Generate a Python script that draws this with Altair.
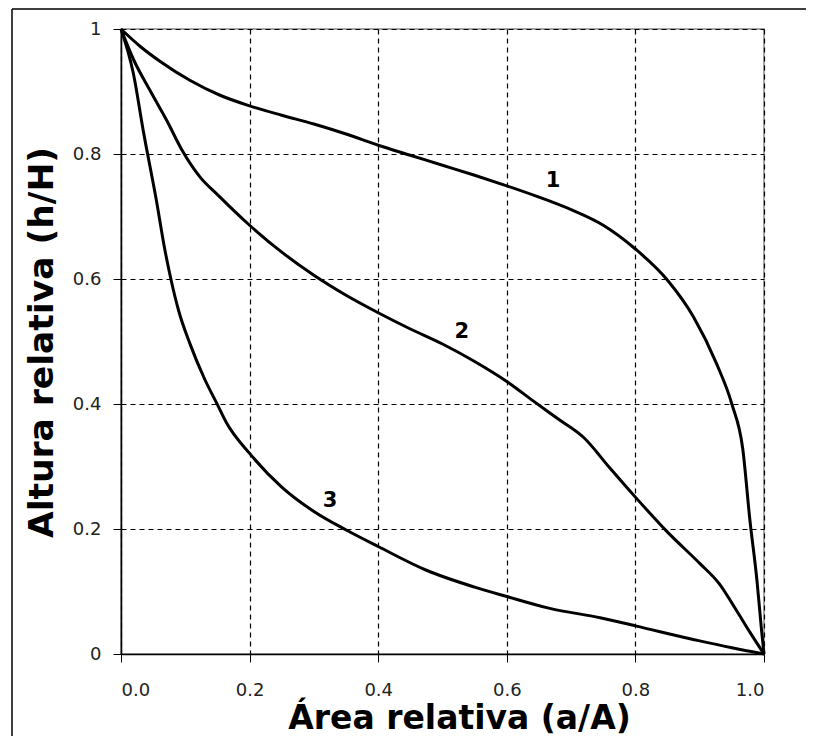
import altair as alt
import pandas as pd

# Curve 1
c1_x = [0, 0.03, 0.061, 0.107, 0.154, 0.2, 0.25, 0.3, 0.35, 0.4, 0.45, 0.5, 0.55, 0.6, 0.65, 0.7, 0.75, 0.8, 0.85, 0.89, 0.926, 0.95, 0.967, 0.978, 0.989, 0.996, 1.0]
c1_y = [1, 0.972, 0.948, 0.918, 0.894, 0.877, 0.862, 0.848, 0.832, 0.814, 0.798, 0.782, 0.766, 0.749, 0.731, 0.711, 0.686, 0.648, 0.598, 0.54, 0.465, 0.4, 0.328, 0.215, 0.118, 0.04, 0]
# Curve 2
c2_x = [0, 0.02, 0.045, 0.071, 0.095, 0.123, 0.15, 0.2, 0.25, 0.3, 0.35, 0.4, 0.45, 0.5, 0.55, 0.6, 0.641, 0.68, 0.72, 0.76, 0.8, 0.85, 0.9, 0.93, 0.957, 0.978, 1.0]
c2_y = [1, 0.95, 0.902, 0.854, 0.806, 0.763, 0.735, 0.686, 0.643, 0.606, 0.574, 0.546, 0.52, 0.496, 0.468, 0.436, 0.405, 0.376, 0.346, 0.298, 0.251, 0.195, 0.145, 0.113, 0.07, 0.035, 0]
# Curve 3
c3_x = [0, 0.019, 0.035, 0.055, 0.068, 0.078, 0.09, 0.107, 0.13, 0.149, 0.164, 0.2, 0.25, 0.3, 0.351, 0.4, 0.475, 0.55, 0.6, 0.667, 0.745, 0.8, 0.9, 0.95, 1.0]
c3_y = [1, 0.93, 0.835, 0.726, 0.648, 0.598, 0.548, 0.497, 0.44, 0.401, 0.37, 0.321, 0.267, 0.228, 0.198, 0.172, 0.134, 0.107, 0.092, 0.073, 0.058, 0.045, 0.021, 0.01, 0]

# Curve labels
lab_text = ["1", "2", "3"]
lab_x = [0.672, 0.53, 0.325]
lab_y = [0.757, 0.515, 0.245]

x_ticks = [0, 0.2, 0.4, 0.6, 0.8, 1.0]
y_ticks = [0, 0.2, 0.4, 0.6, 0.8, 1.0]

rows = []
for name, xs, ys in [("1", c1_x, c1_y), ("2", c2_x, c2_y), ("3", c3_x, c3_y)]:
    for i, (a, b) in enumerate(zip(xs, ys)):
        rows.append({"curve": name, "order": i, "x": a, "y": b})
df = pd.DataFrame(rows)
labels = pd.DataFrame({"t": lab_text, "x": lab_x, "y": lab_y})

FONT = "DejaVu Sans"

xscale = alt.Scale(domain=[0, 1], nice=False, zero=False)
yscale = alt.Scale(domain=[0, 1], nice=False, zero=False)

lines = alt.Chart(df).mark_line(color="black", strokeWidth=3, interpolate="monotone").encode(
    x=alt.X("x:Q", scale=xscale,
            axis=alt.Axis(title="Área relativa (a/A)", values=x_ticks, format=".1f",
                          grid=True, gridColor="black", gridDash=[5, 4], gridWidth=1.2,
                          domainColor="black", domainWidth=1.5, tickColor="black", tickSize=8,
                          labelFont=FONT, labelFontSize=18, labelColor="#222", labelPadding=19,
                          titleFont=FONT, titleFontSize=33, titleFontWeight="bold",
                          titleColor="black", titleX=338, titleY=74,
                          titleAlign="center", titleBaseline="alphabetic")),
    y=alt.Y("y:Q", scale=yscale,
            axis=alt.Axis(title="Altura relativa (h/H)", values=y_ticks,
                          labelExpr="datum.value == 0 ? '0' : datum.value == 1 ? '1' : format(datum.value, '.1f')",
                          grid=True, gridColor="black", gridDash=[5, 4], gridWidth=1.2,
                          domainColor="black", domainWidth=1.5, tickColor="black", tickSize=8,
                          labelFont=FONT, labelFontSize=18, labelColor="#222", labelPadding=12,
                          titleFont=FONT, titleFontSize=34.5, titleFontWeight="bold",
                          titleColor="black", titleX=-69, titleY=313, titleAngle=270,
                          titleAlign="center", titleBaseline="alphabetic")),
    detail="curve:N",
    order="order:Q",
)

text = alt.Chart(labels).mark_text(font=FONT, fontSize=21, fontWeight="bold", color="black").encode(
    x=alt.X("x:Q", scale=xscale), y=alt.Y("y:Q", scale=yscale), text="t:N"
)

one = pd.DataFrame({"a": [0]})
frame_top = alt.Chart(one).mark_rule(color="black", strokeWidth=1.5).encode(
    x=alt.value(-109), x2=alt.value(900), y=alt.value(-20)
)
frame_left = alt.Chart(one).mark_rule(color="black", strokeWidth=1.5).encode(
    x=alt.value(-109), y=alt.value(-20), y2=alt.value(800)
)

chart = alt.layer(lines, text, frame_top, frame_left).properties(
    width=643, height=625,
    padding={"left": 113, "top": 21, "right": 42, "bottom": 82},
    autosize=alt.AutoSizeParams(type="none"),
    background="white",
).configure_view(stroke="#888", strokeWidth=1.5)

chart.save("out.html", embed_options={"renderer": "svg", "actions": False})
